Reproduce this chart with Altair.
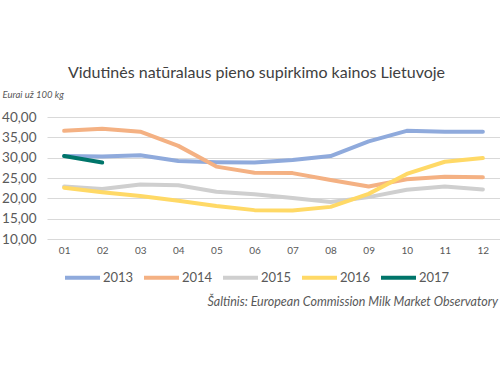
import altair as alt
import pandas as pd

months = ["01", "02", "03", "04", "05", "06", "07", "08", "09", "10", "11", "12"]
years = ["2013", "2014", "2015", "2016", "2017"]
v2013 = [30.4, 30.3, 30.6, 29.2, 28.9, 28.8, 29.4, 30.4, 34.0, 36.6, 36.4, 36.4]
v2014 = [36.6, 37.1, 36.4, 32.9, 27.8, 26.3, 26.2, 24.5, 22.9, 24.7, 25.3, 25.2]
v2015 = [22.9, 22.3, 23.4, 23.2, 21.6, 21.0, 20.1, 19.1, 20.3, 22.1, 22.9, 22.2]
v2016 = [22.6, 21.5, 20.6, 19.4, 18.1, 17.1, 17.0, 17.9, 21.1, 26.0, 29.0, 29.9]
v2017 = [30.4, 28.8]
colors = ["#8FAADC", "#F4B183", "#CFCFCF", "#FFD966", "#00756A"]
title = "Vidutinės natūralaus pieno supirkimo kainos Lietuvoje"
ytitle = "Eurai už 100 kg"
source = "Šaltinis: European Commission Milk Market Observatory"

rows = []
for y, vals in zip(years, [v2013, v2014, v2015, v2016, v2017]):
    for m, v in zip(months, vals):
        rows.append({"month": m, "year": y, "value": v})
df = pd.DataFrame(rows)

FONT = "Lato"

lines = alt.Chart(df).mark_line(strokeWidth=4, strokeCap="round", strokeJoin="round").encode(
    x=alt.X("month:O", sort=months, scale=alt.Scale(domain=months, type="point", padding=0.45),
            axis=alt.Axis(title=None, labelAngle=0, labelFontSize=10, labelColor="#595959",
                          labelPadding=6, ticks=False, domain=False, grid=False, labelFont=FONT)),
    y=alt.Y("value:Q", scale=alt.Scale(domain=[10, 40], nice=False, zero=False),
            axis=alt.Axis(title=ytitle, titleAngle=0, titleAlign="left", titleBaseline="alphabetic",
                          titleX=-45, titleY=-20, titleFontSize=9.5, titleFontStyle="italic",
                          titleFontWeight="normal", titleColor="#595959", titleFont=FONT,
                          values=[10, 15, 20, 25, 30, 35, 40], tickCount=7,
                          labelExpr="replace(format(datum.value, '.2f'), '.', ',')",
                          labelFontSize=13.5, labelColor="#595959", labelPadding=11, labelFont=FONT,
                          ticks=False, domain=False, gridColor="#D9D9D9", gridWidth=1)),
    color=alt.Color("year:N", scale=alt.Scale(domain=years, range=colors),
                    legend=alt.Legend(title=None, orient="none", direction="horizontal",
                                      legendX=16, legendY=141, symbolType="stroke",
                                      symbolStrokeWidth=4, symbolSize=1225, labelFontSize=13,
                                      labelColor="#595959", labelFont=FONT, labelOffset=1,
                                      columnPadding=2, padding=0)),
    detail="year:N",
)

src = alt.Chart(pd.DataFrame({"t": [source]})).mark_text(
    align="right", baseline="alphabetic", fontSize=12.5, fontStyle="italic", color="#595959", font=FONT
).encode(x=alt.value(451), y=alt.value(189), text="t:N")

chart = alt.layer(lines, src).properties(
    width=453, height=122,
    title=alt.TitleParams(title, fontSize=16, fontWeight="normal", color="#404040", font=FONT,
                          anchor="middle", offset=8, dx=-17),
    padding={"left": 47, "top": 117, "right": 0, "bottom": 136},
    autosize=alt.AutoSizeParams(type="none"),
).configure_view(stroke=None)

chart.save("out.html", embed_options={"renderer": "svg", "actions": False})
